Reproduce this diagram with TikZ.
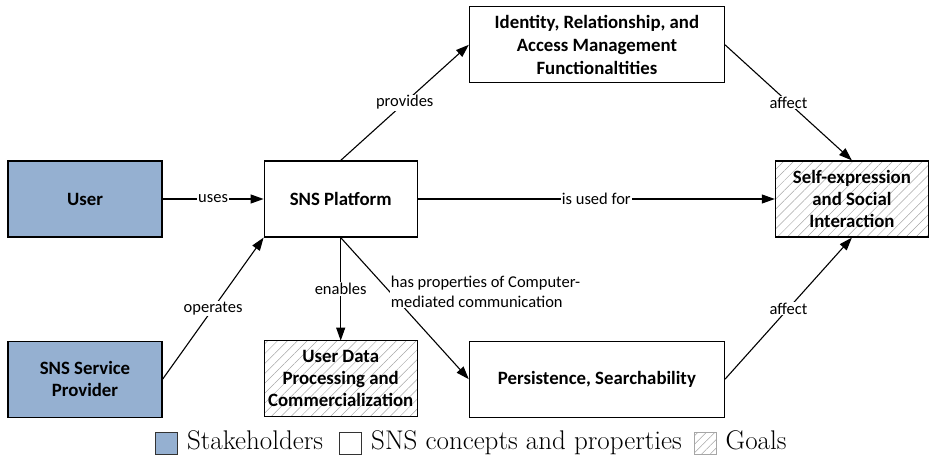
\documentclass[tikz,border=0pt]{standalone}
\usepackage{fontspec}
\newfontfamily\calib{Carlito}
\usepackage{tikz}
\usetikzlibrary{arrows.meta,positioning,patterns.meta}
\definecolor{stakeblue}{RGB}{149,176,209}
\tikzset{
  stake/.style={draw, line width=1.2pt, align=center, minimum width=154pt, minimum height=76pt, fill=stakeblue, font=\calib\bfseries\fontsize{18.8}{22}\selectfont},
  concept/.style={draw, line width=1.2pt, align=center, minimum height=76pt, fill=white, font=\calib\bfseries\fontsize{18.8}{23}\selectfont},
  goal/.style={draw, line width=1.2pt, align=center, minimum width=153pt, minimum height=76pt, inner sep=2pt, pattern={Lines[angle=45,distance=7pt,line width=0.5pt]}, pattern color=gray!70, font=\calib\bfseries\fontsize{18.8}{22}\selectfont},
  arrow/.style={-{Triangle[length=13pt,width=9pt]}, line width=1.1pt},
  lbl/.style={fill=white, inner sep=1pt, font=\calib\fontsize{16.5}{20}\selectfont},
  legbox/.style={draw, line width=0.7pt, minimum size=22pt, inner sep=0pt},
  legtext/.style={inner sep=0pt, text height=18pt, text depth=5pt, font=\fontsize{27}{30}\selectfont}
}
\begin{document}
\begin{tikzpicture}
  \useasboundingbox (0pt,0pt) rectangle (931pt,-460pt);
  % stakeholders and platform
  \node[stake] (user) at (85pt,-199pt) {User};
  \node[stake, below=103pt of user] (provider) {SNS Service\\Provider};
  \node[concept, minimum width=153pt, right=101pt of user] (sns) {SNS Platform};
  \node[goal, below=103pt of sns] (data) {User Data\\Processing and\\Commercialization};
  \node[concept, minimum width=255pt, above right=77pt and 51pt of sns] (identity) {Identity, Relationship, and\\Access Management\\Functionaltities};
  \node[concept, minimum width=255pt, below right=103pt and 51pt of sns] (persist) {Persistence, Searchability};
  \node[goal, right=357pt of sns] (self) {Self-expression\\and Social\\Interaction};

  % connectors
  \draw[arrow] (user) -- node[lbl]{uses} (sns);
  \draw[arrow] (provider.east) -- node[lbl]{operates} (sns.south west);
  \draw[arrow] (sns.north) -- node[lbl]{provides} (identity.west);
  \draw[arrow] (sns) -- node[lbl]{is used for} (self);
  \draw[arrow] (sns.south) -- node[lbl]{enables} (data.north);
  \draw[arrow] (sns.south) -- node[lbl, pos=0.38, anchor=west, align=left]{has properties of Computer-\\mediated communication} (persist.west);
  \draw[arrow] (identity.east) -- node[lbl]{affect} (self.north);
  \draw[arrow] (persist.east) -- node[lbl]{affect} (self.south);

  % legend
  \node[legbox, fill=stakeblue, draw=black!80] (legstake) at (166.5pt,-443pt) {};
  \node[legtext, right=9pt of legstake] (legstaketxt) {Stakeholders};
  \node[legbox, draw=black!80, right=16pt of legstaketxt] (legconcept) {};
  \node[legtext, right=9pt of legconcept] (legconcepttxt) {SNS concepts and properties};
  \node[legbox, draw=gray!70, pattern={Lines[angle=45,distance=6pt,line width=0.5pt]}, pattern color=gray!70, right=12pt of legconcepttxt] (leggoal) {};
  \node[legtext, right=9pt of leggoal] (leggoaltxt) {Goals};
\end{tikzpicture}
\end{document}
